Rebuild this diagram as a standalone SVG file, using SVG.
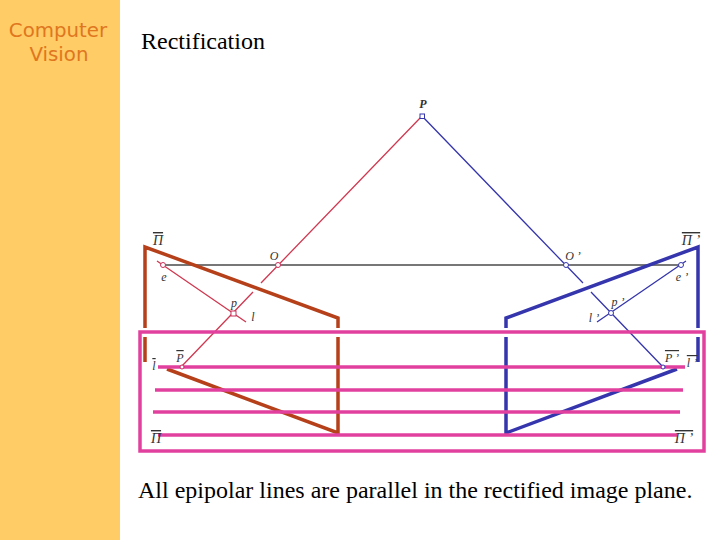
<svg xmlns="http://www.w3.org/2000/svg" width="720" height="540" viewBox="0 0 720 540">
<style>
.head{font-family:"DejaVu Sans",sans-serif;font-size:19.800px;fill:#E0761E;text-anchor:middle}
.body{font-family:"Liberation Serif",serif;font-size:24px;fill:#000}
.lab{font-family:"Liberation Serif",serif;font-style:italic;font-size:12px;fill:#333;text-anchor:middle}
.bar{text-decoration:overline}
.brown{fill:none;stroke:#B5401A;stroke-width:3.5}
.blue{fill:none;stroke:#3535AD;stroke-width:3.5}
.pink{fill:none;stroke:#E2409E;stroke-width:3.5}
.thinr{fill:none;stroke:#D03850;stroke-width:1.300}
.thinb{fill:none;stroke:#3535AD;stroke-width:1.300}
.cr{fill:#fff;stroke:#C8305A;stroke-width:1}
.cb{fill:#fff;stroke:#3535AD;stroke-width:1}
</style>
<rect id="sidebar" x="0" y="0" width="120" height="540" fill="#FFCC66"/>
<g id="title">
<text class="head" x="58" y="37">Computer</text>
<text class="head" x="59" y="61">Vision</text>
<text class="body" x="141" y="49">Rectification</text>
<text class="body" x="138" y="498">All epipolar lines are parallel in the rectified image plane.</text>
</g>
<g id="connectors">
<path d="M163 265H681" fill="none" stroke="#777" stroke-width="2"/>
<path class="thinr" d="M422 116L261 283M253 292L181 367M157 261L246 322"/>
<path class="thinb" d="M422 116L583 283M591 292L663 367M686 261L597 322"/>
<path class="brown" d="M145 328V247L338 318V328M145 337V362M338 337V433L167 369"/>
<path class="blue" d="M698 362V337M698 328V247L506 318V328M506 337V433L677 369"/>
</g>
<g id="rectified-plane">
<rect class="pink" x="140" y="332" width="564" height="119"/>
<path class="pink" d="M158 367H685M155 390H683M153 412H680M158 435H677"/>
</g>
<g id="point-P"><rect class="cb" x="420" y="114" width="4.500" height="4.500"/><text class="lab" x="423" y="108" font-weight="bold">P</text></g>
<g id="point-O"><circle class="cr" cx="278" cy="265" r="2.500"/><text class="lab" x="274" y="260">O</text></g>
<g id="point-O-prime"><circle class="cb" cx="566" cy="265" r="2.500"/><text class="lab" x="573" y="260">O ’</text></g>
<g id="point-e"><circle class="cr" cx="163" cy="265" r="2.500"/><text class="lab" x="164" y="281">e</text></g>
<g id="point-e-prime"><circle class="cb" cx="681" cy="265" r="2.500"/><text class="lab" x="682" y="281">e ’</text></g>
<g id="point-p"><rect class="cr" x="231" y="311" width="5" height="5"/><text class="lab" x="234" y="307">p</text><text class="lab" x="253" y="321">l</text></g>
<g id="point-p-prime"><circle class="cb" cx="611" cy="313" r="2.500"/><text class="lab" x="618" y="306">p ’</text><text class="lab" x="594" y="322">l ’</text></g>
<g id="label-pi"><text class="lab bar" x="158" y="245" font-size="13" style="font-size:14px">Π</text></g>
<g id="label-pi-prime"><text class="lab bar" x="691" y="245" style="font-size:14px">Π ’</text></g>
<g id="label-l-bar"><text class="lab bar" x="154" y="370">l</text></g>
<g id="label-p-bar"><circle class="cr" cx="182" cy="367" r="2"/><text class="lab bar" x="180" y="362">P</text></g>
<g id="label-p-bar-prime"><circle class="cb" cx="663" cy="367" r="2"/><text class="lab bar" x="672" y="362">P ’</text></g>
<g id="label-l-bar-prime"><text class="lab bar" x="692" y="367">l ’</text></g>
<g id="label-pi-bar"><text class="lab bar" x="156" y="443" style="font-size:14px">Π</text></g>
<g id="label-pi-bar-prime"><text class="lab bar" x="684" y="443" style="font-size:14px">Π ’</text></g>
</svg>
